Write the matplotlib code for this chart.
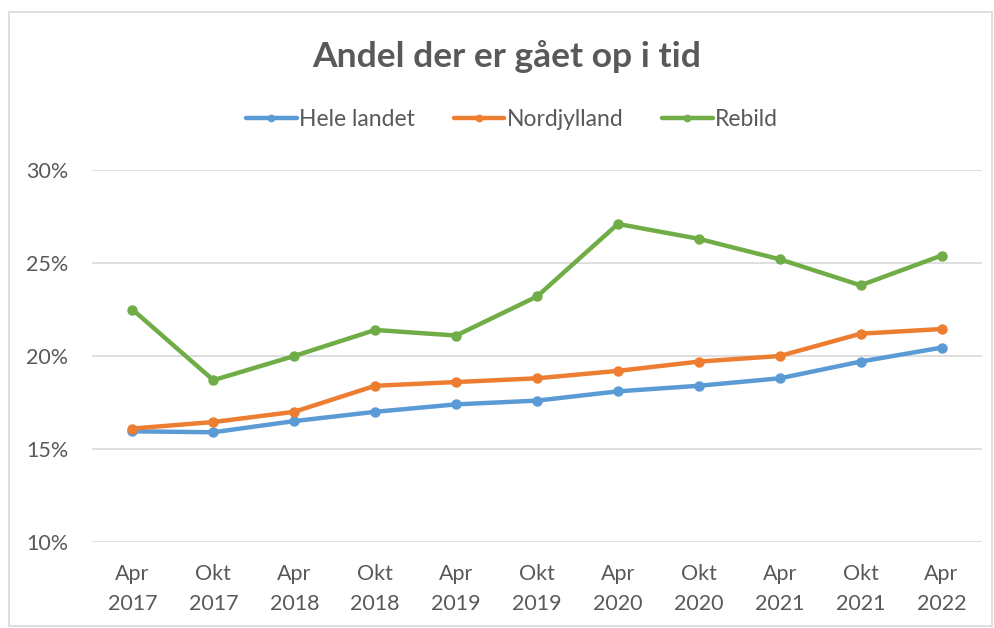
import numpy as np
import matplotlib
matplotlib.use("Agg")
import matplotlib.pyplot as plt
from matplotlib.patches import Rectangle
from matplotlib.ticker import FuncFormatter

# data (andel i %)
perioder = ["Apr\n2017", "Okt\n2017", "Apr\n2018", "Okt\n2018", "Apr\n2019", "Okt\n2019",
            "Apr\n2020", "Okt\n2020", "Apr\n2021", "Okt\n2021", "Apr\n2022"]
hele_landet = [15.95, 15.9, 16.5, 17.0, 17.4, 17.6, 18.1, 18.4, 18.8, 19.7, 20.45]
nordjylland = [16.1, 16.45, 17.0, 18.4, 18.6, 18.8, 19.2, 19.7, 20.0, 21.2, 21.45]
rebild = [22.5, 18.7, 20.0, 21.4, 21.1, 23.2, 27.1, 26.3, 25.2, 23.8, 25.4]

serier = [("Hele landet", hele_landet, "#5B9BD5"),
          ("Nordjylland", nordjylland, "#ED7D31"),
          ("Rebild", rebild, "#70AD47")]

tekst = "#595959"
plt.rcParams['font.family'] = ['Lato', 'DejaVu Sans']

fig = plt.figure(figsize=(9.94, 6.28), dpi=100)
ax = fig.add_axes([92/994, 1-542/628, (982-92)/994, (542-170)/628])

x = np.arange(len(perioder))
for navn, vals, farve in serier:
    ax.plot(x, vals, color=farve, lw=3.2, marker="o", ms=6.5,
            solid_capstyle="round", label=navn, zorder=3)

ax.set_xlim(-0.5, len(perioder) - 0.5)
ax.set_ylim(10, 30)
ax.set_yticks([10, 15, 20, 25, 30])
ax.yaxis.set_major_formatter(FuncFormatter(lambda v, p: "%d%%" % v))
ax.set_xticks(x)
ax.set_xticklabels(perioder, linespacing=1.6)
ax.grid(axis="y", color="#D9D9D9", lw=1.2)
ax.set_axisbelow(True)
for s in ax.spines.values():
    s.set_visible(False)
ax.tick_params(length=0, labelsize=15.5, colors=tekst)
ax.tick_params(axis="y", pad=17)
ax.tick_params(axis="x", pad=16)

fig.text(0.510, 1-57/628, "Andel der er gået op i tid", ha="center", va="center",
         fontsize=25.5, fontweight="bold", color=tekst)

leg = fig.legend(loc="center", bbox_to_anchor=(512/994, 1-120/628), ncol=3,
                 frameon=False, fontsize=16.5, handlelength=2.2, handletextpad=0.1,
                 columnspacing=1.7, markerscale=0.7)
for t in leg.get_texts():
    t.set_color(tekst)

fig.patches.append(Rectangle((9/994, 2/628), 983/994, 614/628, transform=fig.transFigure,
                             fill=False, edgecolor="#D9D9D9", lw=1.2))

fig.savefig("out.png", dpi=100)
